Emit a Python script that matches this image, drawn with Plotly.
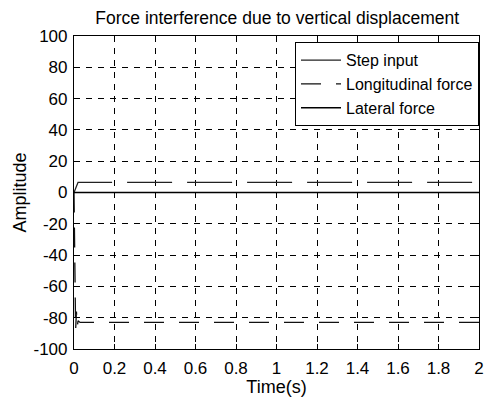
import plotly.graph_objects as go

# ---- data ----
step_t = [0.0, 0.02, 2.0]
step_v = [0.0, 6.5, 6.5]

long_t = [0.0, 0.004, 0.008, 0.012, 0.016, 0.02, 0.03, 2.0]
long_v = [0.0, -40.0, -88.0, -76.0, -86.0, -82.0, -83.0, -83.0]

lat_t = [0.0, 2.0]
lat_v = [0.0, 0.0]

x_ticks = [0, 0.2, 0.4, 0.6, 0.8, 1, 1.2, 1.4, 1.6, 1.8, 2]
x_labels = ["0", "0.2", "0.4", "0.6", "0.8", "1", "1.2", "1.4", "1.6", "1.8", "2"]
y_ticks = [-100, -80, -60, -40, -20, 0, 20, 40, 60, 80, 100]
y_labels = [str(v) for v in y_ticks]

FONT = "Liberation Sans, Arial, sans-serif"

fig = go.Figure()
fig.add_trace(go.Scatter(x=step_t, y=step_v, mode="lines", name="Step input",
                         line=dict(color="#222", width=1.3, dash="45px,15px")))
fig.add_trace(go.Scatter(x=long_t, y=long_v, mode="lines", name="Longitudinal force",
                         line=dict(color="#111", width=1.3, dash="20px,15px")))
fig.add_trace(go.Scatter(x=lat_t, y=lat_v, mode="lines", name="Lateral force",
                         line=dict(color="#000", width=1.7)))

axis_common = dict(
    showline=True, linecolor="black", linewidth=1.2, mirror="ticks",
    ticks="inside", ticklen=5, tickcolor="black",
    showgrid=True, gridcolor="black", gridwidth=1, griddash="6px,6px",
    zeroline=False, tickfont=dict(family=FONT, size=17, color="black"),
)

fig.update_xaxes(range=[0, 2], tickvals=x_ticks, ticktext=x_labels,
                 ticklabelstandoff=3,
                 title=dict(text="Time(s)", font=dict(family=FONT, size=18, color="black"), standoff=0),
                 **axis_common)
fig.update_yaxes(range=[-100, 100], tickvals=y_ticks, ticktext=y_labels,
                 ticklabelstandoff=2,
                 title=dict(text="Amplitude", font=dict(family=FONT, size=18, color="black"), standoff=2),
                 **axis_common)

fig.update_layout(
    width=495, height=401,
    margin=dict(l=74, r=11, t=36, b=40),
    paper_bgcolor="white", plot_bgcolor="white",
    title=dict(text="Force interference due to vertical displacement",
               x=0.56, xanchor="center", y=0.955, yanchor="middle",
               font=dict(family=FONT, size=17.5, color="black")),
    showlegend=True,
    legend=dict(x=1.0, xanchor="right", y=0.98, yanchor="top",
                bgcolor="white", bordercolor="black", borderwidth=1,
                font=dict(family=FONT, size=16, color="black"),
                tracegroupgap=0, itemwidth=40),
)

fig.write_html("out.html")
